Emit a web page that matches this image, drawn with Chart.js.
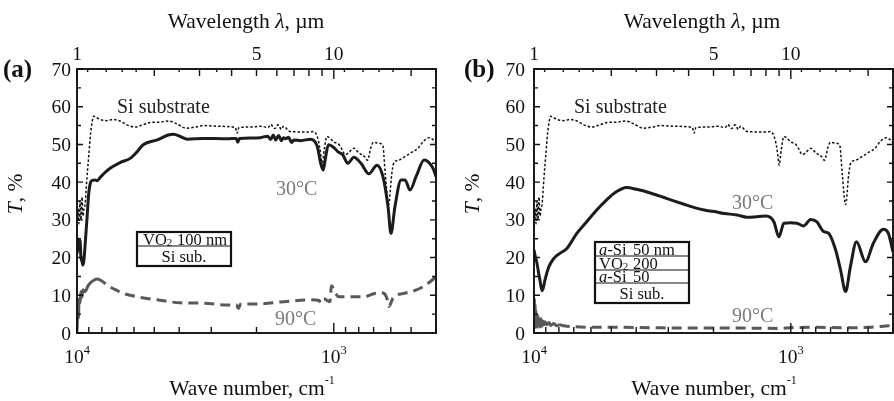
<!DOCTYPE html>
<html>
<head>
<meta charset="utf-8">
<script src="https://cdn.jsdelivr.net/npm/chart.js@4.4.1/dist/chart.umd.min.js"></script>
<style>
html, body { margin: 0; padding: 0; background: #fff; }
.panel { position: absolute; top: 0; width: 447px; height: 401px; }
</style>
</head>
<body>
<div class="panel" style="left:0"><canvas id="ca" width="447" height="401"></canvas></div>
<div class="panel" style="left:447px"><canvas id="cb" width="447" height="401"></canvas></div>
<script>
// wave numbers in cm-1, transmittance in %
const siNu = [10000, 9910, 9820, 9734, 9650, 9560, 9475, 9390, 9306, 9150, 9000, 8850, 8600, 8350, 8000, 7650, 7250, 6800, 6400, 5950,
  5500, 5190, 4800, 4400, 4100, 3750, 3400, 3220, 2800, 2420, 2380, 2340, 2110, 1930, 1800, 1760, 1700, 1650, 1600, 1570,
  1480, 1250, 1200, 1150, 1125, 1110, 1090, 1064, 1000, 950, 900, 870, 835, 800, 760, 740, 715, 700, 670, 645,
  630, 612, 595, 585, 560, 536, 500, 470, 448, 425, 410, 400];
const siT = [27, 33, 29, 35, 30, 36, 31, 33, 34, 41, 47, 53, 57.5, 57.0, 56.5, 56.3, 56.6, 56.2, 55.2, 54.6,
  55.3, 55.8, 55.9, 56.2, 55.5, 54.3, 54.7, 55.0, 54.8, 54.5, 53.0, 54.5, 54.6, 54.8, 54.5, 55.3, 54.2, 55.2, 54.0, 54.8,
  53.4, 53.3, 53.4, 51.2, 47.5, 44.5, 48.5, 52.1, 50.7, 49.8, 47.3, 48.0, 49.0, 47.8, 46.8, 45.8, 49.5, 50.6, 50.3, 49.8,
  42, 34, 42, 45, 45.8, 46.5, 47.8, 49, 50.8, 51.8, 51.2, 50.5];

// (a) VO2 100 nm / Si
const a30Nu = [10000, 9910, 9820, 9734, 9650, 9560, 9475, 9390, 9306, 9150, 9000, 8850, 8700, 8505, 8350, 8133, 7800, 7433, 6793, 6209,
  5828, 5524, 4870, 4412, 4200, 3960, 3719, 3219, 2595, 2400, 2365, 2330, 2110, 1929, 1811, 1762, 1720, 1685, 1640, 1600,
  1568, 1540, 1500, 1460, 1430, 1346, 1230, 1160, 1125, 1100, 1080, 1050, 1000, 965, 922, 882, 835, 784, 730, 679,
  644, 615, 599, 578, 547, 528, 505, 478, 445, 411, 400];
const a30T = [21, 25, 22, 24.5, 20, 19, 18, 19.5, 23, 30, 37, 40, 40.5, 40.6, 40.4, 41.2, 42.5, 43.7, 45.2, 46.3,
  48.1, 49.9, 51.2, 52.5, 52.7, 52.1, 51.4, 51.6, 51.5, 51.6, 50.6, 51.6, 51.7, 51.8, 52.2, 51.3, 52.5, 51.2, 52.4, 51.0,
  51.8, 51.5, 51.9, 50.5, 51.2, 51.0, 51.4, 49.5, 45, 43.2, 46, 49.9, 49.2, 48.1, 47.2, 45.0, 46.6, 45.0, 42.2, 44.5,
  41.5, 33.5, 26.4, 33.5, 40.6, 40.6, 37.9, 41.5, 45.9, 43.7, 41.5];
const a90Nu = [10000, 9960, 9910, 9870, 9820, 9734, 9650, 9560, 9475, 9306, 9059, 8898, 8600, 8355, 8000, 7636, 7000, 6613, 5828, 4870,
  3960, 3219, 2595, 2400, 2350, 2309, 2110, 1982, 1568, 1230, 1140, 1124, 1094, 1060, 1035, 1022, 985, 956, 858, 763,
  700, 667, 638, 620, 610, 599, 588, 533, 470, 429, 400];
const a90T = [0.5, 5, 7, 4, 9, 8, 11, 9.5, 11.5, 11.0, 12.5, 13.2, 14.0, 14.3, 13.8, 12.7, 11.3, 10.5, 9.6, 8.8,
  8.0, 7.9, 7.4, 7.5, 6.5, 7.6, 7.7, 7.7, 8.3, 8.8, 8.6, 8.0, 9.1, 8.6, 8.3, 12.5, 10.5, 9.6, 9.6, 9.6,
  10.4, 10.7, 10.5, 9.0, 7.0, 8.0, 9.3, 10.5, 11.6, 13.2, 14.9];

// (b) a-Si / VO2 200 nm / a-Si / Si
const b30Nu = [10000, 9900, 9736, 9600, 9479, 9311, 9200, 9066, 8748, 8366, 7930, 7449, 6813, 6232, 5700, 5213, 4767, 4360, 3988, 3551,
  3051, 2622, 2335, 2174, 1988, 1819, 1619, 1481, 1250, 1164, 1113, 1064, 1000, 948, 891, 837, 793, 745, 712, 669,
  640, 612, 586, 555, 512, 477, 436, 417, 400];
const b30T = [22, 20.5, 18.5, 16, 14, 11.2, 12, 14, 17.6, 19.8, 21.1, 22.4, 26.4, 29.5, 32.6, 35.3, 37.5, 38.6, 38.1, 37.2,
  35.7, 34.2, 33.1, 32.6, 32.2, 31.7, 31.3, 30.7, 31.0, 29.5, 25.5, 29.1, 29.2, 29.1, 28.4, 30.1, 29.5, 26.9, 26.4, 22,
  16.7, 11.0, 17.6, 24.2, 18.9, 23.8, 27.5, 26.4, 21.5];
const b90Nu = [10000, 9970, 9940, 9900, 9870, 9830, 9790, 9736, 9690, 9640, 9580, 9520, 9479, 9400, 9311, 9230, 9147, 9066, 8906, 8750,
  8600, 8366, 8150, 7930, 7651, 6633, 5700, 4642, 3551, 2622, 1988, 1500, 1113, 1000, 800, 600, 500, 450, 400];
const b90T = [2, 9, 3, 7.5, 1.5, 6, 2.5, 5, 1.5, 4.5, 2, 3.5, 1.6, 3.8, 1.8, 3.2, 2.2, 3.0, 2.2, 2.8,
  2.0, 2.5, 1.9, 2.2, 1.9, 1.6, 1.5, 1.5, 1.4, 1.3, 1.3, 1.3, 1.2, 1.4, 1.5, 1.4, 1.5, 1.7, 2.0];

// axes
const yMajor = [0, 10, 20, 30, 40, 50, 60, 70];
const yMinor = [5, 15, 25, 35, 45, 55, 65];
const nuMajor = [10000, 1000];
const nuMajorExp = ['4', '3'];
const nuMinor = [9000, 8000, 7000, 6000, 5000, 4000, 3000, 2000, 900, 800, 700, 600, 500, 400];
const lamLabels = [1, 5, 10];
const lamTicks = [2, 3, 4, 5, 6, 7, 8, 9, 20];
const lamMinor = [1.1, 1.3, 1.5, 1.7, 2.5, 3.5, 11, 13, 15, 17, 25];

const FONT = '"Liberation Serif", "Times New Roman", serif';

function pts(nu, t) { return nu.map((v, i) => ({ x: v, y: t[i] })); }

function fontOf(p) {
  return (p.italic ? 'italic ' : '') + (p.bold ? 'bold ' : '') + (p.size || 21.5) + 'px ' + FONT;
}

function txt(ctx, parts, x, y, align, color) {
  let w = 0;
  parts.forEach(p => { ctx.font = fontOf(p); p.w = ctx.measureText(p.t).width; w += p.w; });
  let cx = align === 'center' ? x - w / 2 : align === 'right' ? x - w : x;
  ctx.fillStyle = color || '#111';
  parts.forEach(p => { ctx.font = fontOf(p); ctx.fillText(p.t, cx, y + (p.dy || 0)); cx += p.w; });
}

function seg(ctx, x1, y1, x2, y2) { ctx.moveTo(x1, y1); ctx.lineTo(x2, y2); }

const deco = p => ({
  id: 'deco',
  afterDatasetsDraw(chart) {
    const ctx = chart.ctx, a = chart.chartArea;
    const xs = chart.scales.x, ys = chart.scales.y;
    ctx.save();
    ctx.textBaseline = 'alphabetic';
    ctx.textAlign = 'left';
    ctx.strokeStyle = '#111';
    ctx.lineWidth = 1.4;
    ctx.beginPath();
    yMajor.forEach(v => {
      const py = ys.getPixelForValue(v);
      seg(ctx, a.left, py, a.left + 6, py); seg(ctx, a.right, py, a.right - 6, py);
    });
    yMinor.forEach(v => {
      const py = ys.getPixelForValue(v);
      seg(ctx, a.left, py, a.left + 4, py); seg(ctx, a.right, py, a.right - 4, py);
    });
    nuMajor.forEach(v => { const px = xs.getPixelForValue(v); seg(ctx, px, a.bottom, px, a.bottom - 10); });
    nuMinor.forEach(v => { const px = xs.getPixelForValue(v); seg(ctx, px, a.bottom, px, a.bottom - 6); });
    [1, 10].forEach(l => { const px = xs.getPixelForValue(1e4 / l); seg(ctx, px, a.top, px, a.top + 10); });
    lamTicks.forEach(l => { const px = xs.getPixelForValue(1e4 / l); seg(ctx, px, a.top, px, a.top + 7); });
    lamMinor.forEach(l => { const px = xs.getPixelForValue(1e4 / l); seg(ctx, px, a.top, px, a.top + 3); });
    ctx.stroke();
    ctx.lineWidth = 1.9;
    ctx.strokeRect(a.left, a.top, a.right - a.left, a.bottom - a.top);

    // tick labels
    yMajor.forEach(v => txt(ctx, [{ t: String(v), size: 19.5 }], a.left - p.yGap, ys.getPixelForValue(v) + 6.5, 'right'));
    nuMajor.forEach((v, i) => txt(ctx, [{ t: '10', size: 19.5 }, { t: nuMajorExp[i], size: 12.5, dy: -9 }],
      xs.getPixelForValue(v), 363, 'center'));
    lamLabels.forEach(l => txt(ctx, [{ t: String(l), size: 19.5 }], xs.getPixelForValue(1e4 / l), 60, 'center'));

    // axis titles
    txt(ctx, [{ t: 'Wavelength ' }, { t: 'λ', italic: true }, { t: ', µm' }], p.topX, 28, 'center');
    txt(ctx, [{ t: 'Wave number, cm' }, { t: '-1', size: 12, dy: -11 }], p.botX, 395, 'center');
    ctx.save();
    ctx.translate(p.yTitleX, 194);
    ctx.rotate(-Math.PI / 2);
    txt(ctx, [{ t: 'T', italic: true }, { t: ', %' }], 0, 0, 'center');
    ctx.restore();
    txt(ctx, [{ t: p.letter, bold: true, size: 25 }], p.letterX, 77, 'left');

    // curve notes
    p.notes.forEach(n => txt(ctx, [{ t: n.t, size: 20 }], n.x, n.y, 'left', n.c));

    // layer stack inset
    const b = p.inset;
    const h = b.rows.reduce((s, r) => s + r.h, 0);
    ctx.fillStyle = '#fff';
    ctx.fillRect(b.x, b.y, b.w, h);
    let cy = b.y;
    ctx.lineWidth = 1.2;
    ctx.beginPath();
    b.rows.forEach((r, i) => {
      if (i > 0) seg(ctx, b.x, cy, b.x + b.w, cy);
      if (r.center) txt(ctx, r.c1, b.x + b.w / 2, cy + r.h - 4, 'center');
      else { txt(ctx, r.c1, b.x + b.c1, cy + r.h - 1.5); txt(ctx, r.c2, b.x + b.c2, cy + r.h - 1.5); }
      cy += r.h;
    });
    ctx.stroke();
    ctx.lineWidth = 2.2;
    ctx.strokeRect(b.x, b.y, b.w, h);
    ctx.restore();
  }
});

function datasets(d30, d90, solidAbove) {
  return [
    { data: pts(siNu, siT), borderColor: '#111', borderWidth: 1.5, borderDash: [2.5, 2] },
    { data: d30, borderColor: '#1c1c1c', borderWidth: 3 },
    { data: d90, borderColor: '#595959', borderWidth: 3,
      segment: { borderDash: c => (c.p0.parsed.x > solidAbove ? [] : [10, 6]) } }
  ];
}

function makeChart(id, sets, pad, p) {
  return new Chart(document.getElementById(id), {
    type: 'scatter',
    data: { datasets: sets },
    options: {
      responsive: false,
      animation: false,
      layout: { padding: pad },
      showLine: true,
      elements: { point: { radius: 0 }, line: { cubicInterpolationMode: 'monotone', fill: false } },
      plugins: { legend: { display: false }, tooltip: { enabled: false } },
      scales: {
        x: { type: 'logarithmic', min: 400, max: 10000, reverse: true, display: false },
        y: { type: 'linear', min: 0, max: 70, display: false }
      }
    },
    plugins: [deco(p)]
  });
}

const f = 16.5;
makeChart('ca', datasets(pts(a30Nu, a30T), pts(a90Nu, a90T), 8500),
  { left: 77, right: 11, top: 69, bottom: 68 },
  {
    letter: '(a)', letterX: 3, yGap: 6, topX: 246, botX: 252, yTitleX: 22,
    notes: [
      { t: 'Si substrate', x: 117, y: 113, c: '#222' },
      { t: '30°C', x: 276, y: 195, c: '#7a7a7a' },
      { t: '90°C', x: 275, y: 325, c: '#7a7a7a' }
    ],
    inset: {
      x: 137, y: 232, w: 94, c1: 6, c2: 40,
      rows: [
        { h: 14, c1: [{ t: 'VO', size: f }, { t: '2', size: 11, dy: 1 }], c2: [{ t: '100 nm', size: f }] },
        { h: 20, center: true, c1: [{ t: 'Si sub.', size: f }] }
      ]
    }
  });

makeChart('cb', datasets(pts(b30Nu, b30T), pts(b90Nu, b90T), 8000),
  { left: 87, right: 1, top: 69, bottom: 68 },
  {
    letter: '(b)', letterX: 17, yGap: 9, topX: 255, botX: 267, yTitleX: 32,
    notes: [
      { t: 'Si substrate', x: 127, y: 113, c: '#222' },
      { t: '30°C', x: 285, y: 209, c: '#7a7a7a' },
      { t: '90°C', x: 285, y: 322, c: '#7a7a7a' }
    ],
    inset: {
      x: 148, y: 242, w: 94, c1: 4, c2: 38,
      rows: [
        { h: 14, c1: [{ t: 'a', size: f, italic: true }, { t: '-Si', size: f }], c2: [{ t: '50 nm', size: f }] },
        { h: 14, c1: [{ t: 'VO', size: f }, { t: '2', size: 11, dy: 1 }], c2: [{ t: '200', size: f }] },
        { h: 13, c1: [{ t: 'a', size: f, italic: true }, { t: '-Si', size: f }], c2: [{ t: '50', size: f }] },
        { h: 20, center: true, c1: [{ t: 'Si sub.', size: f }] }
      ]
    }
  });
</script>
</body>
</html>
